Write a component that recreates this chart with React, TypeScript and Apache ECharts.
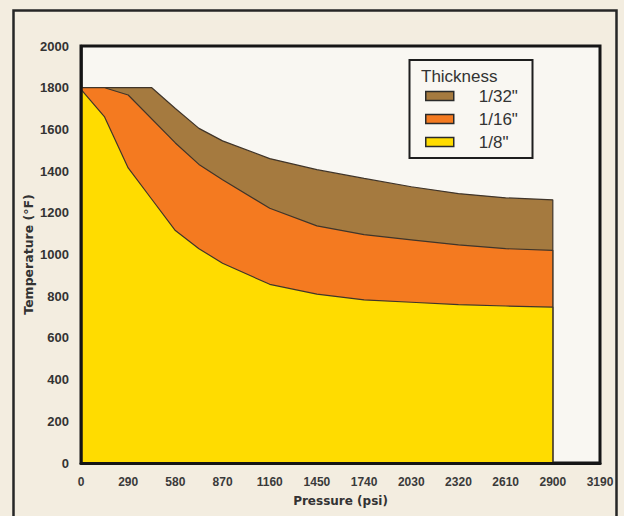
import React, { useEffect, useRef } from "react";
import * as echarts from "echarts";

const thicknessLabels = ['1/32"', '1/16"', '1/8"'];
const seriesColors = ["#a57a3f", "#f47a20", "#ffdc00"];

// Pressure (psi), Temperature (°F)
const thin32: [number, number][] = [
  [0, 1800], [290, 1800], [435, 1800], [580, 1700], [725, 1605],
  [870, 1545], [1160, 1460], [1450, 1407], [1740, 1365], [2030, 1325],
  [2320, 1292], [2610, 1272], [2900, 1262], [2900, 0],
];
const thin16: [number, number][] = [
  [0, 1800], [145, 1800], [290, 1765], [580, 1535], [725, 1432],
  [870, 1358], [1160, 1222], [1450, 1137], [1740, 1095], [2030, 1070],
  [2320, 1046], [2610, 1028], [2900, 1020], [2900, 0],
];
const thin8: [number, number][] = [
  [0, 1792], [145, 1660], [290, 1415], [435, 1265], [580, 1115],
  [725, 1028], [870, 958], [1160, 857], [1450, 810], [1740, 782],
  [2030, 771], [2320, 760], [2610, 753], [2900, 748], [2900, 0],
];
const seriesData = [thin32, thin16, thin8];

const xTicks = [0, 290, 580, 870, 1160, 1450, 1740, 2030, 2320, 2610, 2900, 3190];
const yTicks = [0, 200, 400, 600, 800, 1000, 1200, 1400, 1600, 1800, 2000];

export default function App() {
  const ref = useRef<HTMLDivElement>(null);
  useEffect(() => {
    if (!ref.current) return;
    const chart = echarts.init(ref.current, undefined, { renderer: "svg" });
    const labelFont = "'Liberation Sans', Arial, sans-serif";
    const nameFont = "'DejaVu Sans', sans-serif";
    chart.setOption({
      animation: false,
      backgroundColor: "#f3ede0",
      grid: {
        left: 81,
        top: 46,
        right: 24,
        bottom: 53,
        show: true,
        backgroundColor: "#f9f7f2",
        borderColor: "#151515",
        borderWidth: 3,
      },
      xAxis: {
        type: "value",
        min: xTicks[0],
        max: xTicks[xTicks.length - 1],
        interval: 290,
        z: 3,
        name: "Pressure (psi)",
        nameLocation: "middle",
        nameGap: 32,
        nameMoveOverlap: false,
        nameTextStyle: { fontFamily: nameFont, fontWeight: "bold", fontSize: 12, color: "#333" },
        axisLine: { show: true, lineStyle: { color: "#151515", width: 3 } },
        axisTick: { show: false },
        splitLine: { show: false },
        axisLabel: {
          fontFamily: labelFont, fontWeight: "bold", fontSize: 12, color: "#3a3a3a", margin: 13,
          formatter: (v: number) => String(v),
        },
      },
      yAxis: {
        type: "value",
        min: yTicks[0],
        max: yTicks[yTicks.length - 1],
        interval: 200,
        z: 3,
        name: "Temperature (°F)",
        nameLocation: "middle",
        nameGap: 46,
        nameMoveOverlap: false,
        nameTextStyle: { fontFamily: nameFont, fontWeight: "bold", fontSize: 12.5, color: "#333" },
        axisLine: { show: true, lineStyle: { color: "#151515", width: 2.5 } },
        axisTick: { show: false },
        splitLine: { show: false },
        axisLabel: {
          fontFamily: labelFont, fontWeight: "bold", fontSize: 13, color: "#333", margin: 12,
          formatter: (v: number) => String(v),
        },
      },
      legend: {
        data: thicknessLabels,
        orient: "vertical",
        left: 425,
        top: 86,
        padding: 0,
        icon: "rect",
        itemWidth: 28,
        itemHeight: 9,
        itemGap: 3,
        selectedMode: false,
        itemStyle: { borderColor: "#2a2a2a", borderWidth: 1.5 },
        textStyle: {
          fontFamily: labelFont,
          fontSize: 17,
          color: "#333",
          lineHeight: 18,
          padding: [2, 0, 0, 20],
        },
      },
      graphic: [
        {
          type: "rect",
          z: 3,
          shape: { x: 409.5, y: 60, width: 123, height: 98 },
          style: { fill: "#f9f7f2", stroke: "#1e1e1e", lineWidth: 2 },
        },
        {
          type: "text",
          z: 5,
          x: 421,
          y: 76,
          style: {
            text: "Thickness",
            fontFamily: labelFont,
            fontSize: 17,
            fill: "#333",
            verticalAlign: "middle",
            align: "left",
          },
        },
        {
          type: "rect",
          z: 10,
          silent: true,
          shape: { x: 13.5, y: 10.5, width: 603, height: 530 },
          style: { fill: "none", stroke: "#262626", lineWidth: 2.5 },
        },
      ],
      series: seriesData.map((d, i) => ({
        name: thicknessLabels[i],
        type: "line",
        data: d,
        symbol: "none",
        color: seriesColors[i],
        lineStyle: { color: "#40352a", width: 1.2 },
        itemStyle: { color: seriesColors[i] },
        areaStyle: { color: seriesColors[i], opacity: 1 },
        z: 2 + i * 0.01,
      })),
    });
    return () => chart.dispose();
  }, []);
  return (
    <div
      ref={ref}
      style={{ position: "fixed", left: 0, top: 0, width: 624, height: 516 }}
    />
  );
}
